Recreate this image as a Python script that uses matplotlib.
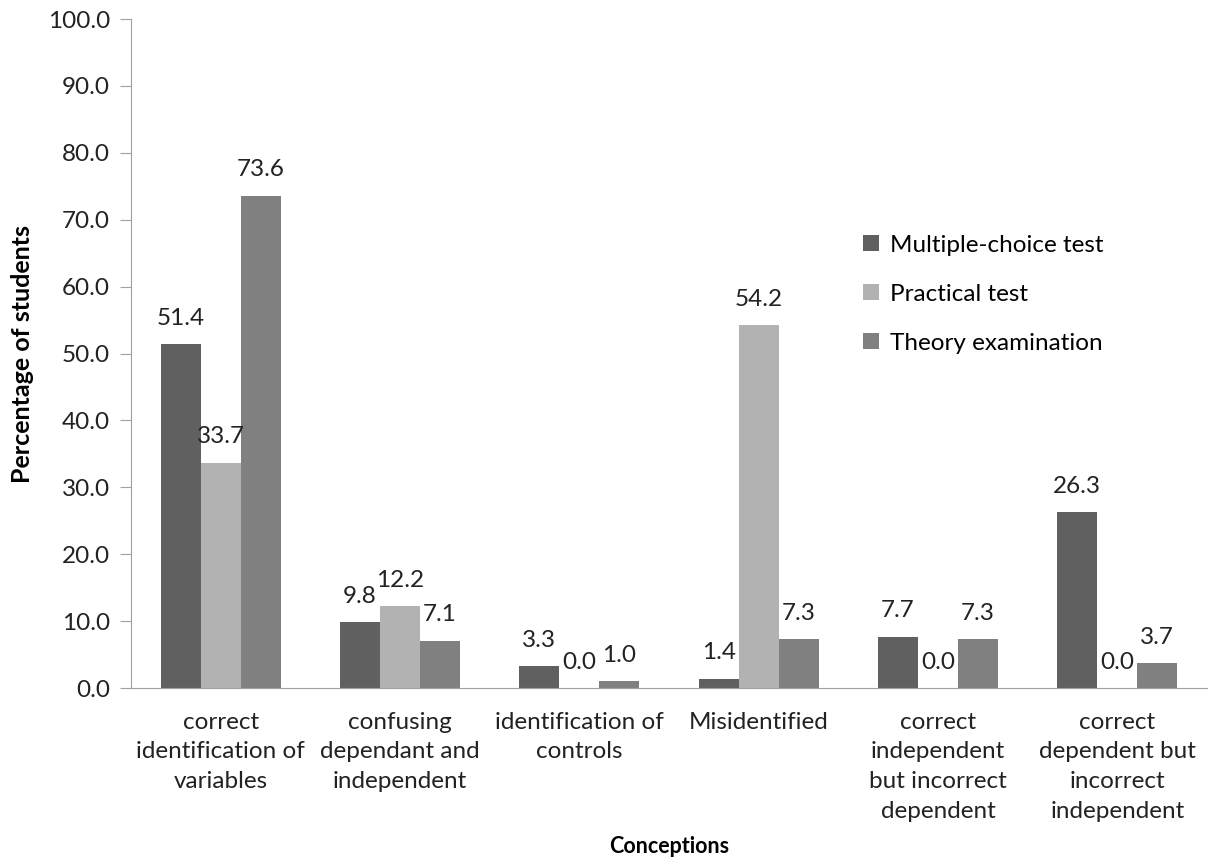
import numpy as np
import matplotlib
matplotlib.use("Agg")
import matplotlib.pyplot as plt
from matplotlib.ticker import FormatStrFormatter

plt.rcParams['font.family'] = ['Lato', 'DejaVu Sans']

categories = ['correct\nidentification of\nvariables',
              'confusing\ndependant and\nindependent',
              'identification of\ncontrols',
              'Misidentified',
              'correct\nindependent\nbut incorrect\ndependent',
              'correct\ndependent but\nincorrect\nindependent']
multiple_choice = [51.4, 9.8, 3.3, 1.4, 7.7, 26.3]
practical = [33.7, 12.2, 0.0, 54.2, 0.0, 0.0]
theory = [73.6, 7.1, 1.0, 7.3, 7.3, 3.7]
series_names = ['Multiple-choice test', 'Practical test', 'Theory examination']
colors = ['#606060', '#b2b2b2', '#808080']

fig = plt.figure(figsize=(12.11, 8.65), dpi=100)
ax = fig.add_axes([0.1082, 0.2046, 0.8885, 0.7734])

x = np.arange(len(categories))
w = 0.223
for i, (vals, name, c) in enumerate(zip([multiple_choice, practical, theory], series_names, colors)):
    pos = x + (i - 1) * w
    ax.bar(pos, vals, w, color=c, label=name)
    for xp, v in zip(pos, vals):
        ax.annotate(f'{v:.1f}', (xp, v), xytext=(0, 11), textcoords='offset points',
                    ha='center', va='bottom', fontsize=17.5, color='#222222')

ax.set_xlim(-0.5, len(categories) - 0.5)
ax.set_ylim(0, 100)
ax.set_yticks(np.arange(0, 101, 10))
ax.yaxis.set_major_formatter(FormatStrFormatter('%.1f'))
ax.set_xticks(x)
ax.set_xticklabels(categories, fontsize=17.5, linespacing=1.52, color='#222222')
ax.tick_params(axis='x', length=0, pad=17)
ax.tick_params(axis='y', length=8, color='#a0a0a0', labelsize=17.5, labelcolor='#222222', pad=7)

for s in ['top', 'right']:
    ax.spines[s].set_visible(False)
for s in ['left', 'bottom']:
    ax.spines[s].set_color('#a0a0a0')

ax.set_ylabel('Percentage of students', fontsize=18, fontweight='bold', labelpad=10)
ax.set_xlabel('Conceptions', fontsize=15.5, fontweight='bold', labelpad=10)

ax.legend(loc='upper left', bbox_to_anchor=(0.66, 0.71), frameon=False, fontsize=17.5,
          handlelength=0.65, handleheight=0.65, handletextpad=0.45, labelspacing=1.15)

fig.savefig('out.png', dpi=100)
